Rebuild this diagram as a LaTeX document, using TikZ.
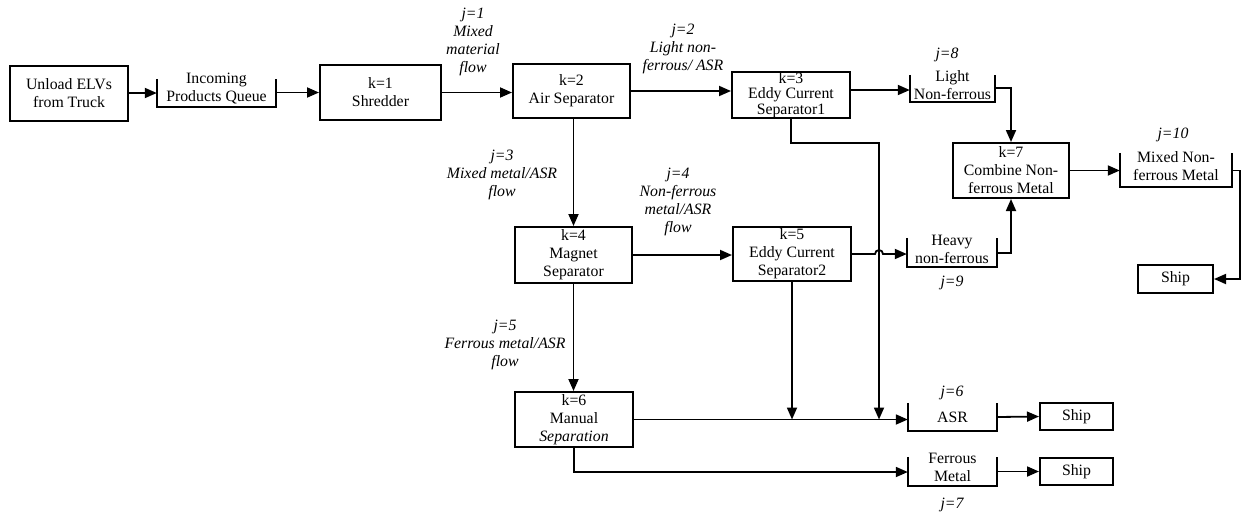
\documentclass[tikz,border=0pt]{standalone}
\usepackage{fontspec}
\setmainfont{Liberation Serif}
\usetikzlibrary{arrows.meta}
\newcommand\quline[2]{\draw[qline] ([yshift=-#2pt]#1.north west) |- (#1.south east) -- ([yshift=-#2pt]#1.north east);}
\begin{document}
\begin{tikzpicture}[x=1pt,y=1pt,
  proc/.style={draw, line width=2pt, rectangle, inner sep=0pt, align=center, font=\fontsize{15.8}{18}\selectfont},
  queue/.style={rectangle, inner sep=0pt, align=center, font=\fontsize{15.8}{18}\selectfont},
  qline/.style={line width=1.7pt},
  lab/.style={align=center, inner sep=0pt, font=\fontsize{15.8}{18}\selectfont\itshape},
  arr/.style={line width=1.8pt, -{Triangle[length=12pt,width=10pt]}}]
\useasboundingbox (0,0) rectangle (1242,-515);
% process boxes
\node[proc, minimum width=118pt, minimum height=55pt] (unload) at (69,-93) {Unload ELVs\\from Truck};
\node[proc, minimum width=121pt, minimum height=55pt] (shred) at (380.5,-92.5) {k=1\\Shredder};
\node[proc, minimum width=117pt, minimum height=54pt] (air) at (571.5,-91) {k=2\\Air Separator};
\node[proc, minimum width=118pt, minimum height=46pt, font=\fontsize{15.8}{15.5}\selectfont] (ecs1) at (791,-95) {k=3\\Eddy Current\\Separator1};
\node[proc, minimum width=117pt, minimum height=56pt] (magnet) at (573.5,-255) {k=4\\Magnet\\Separator};
\node[proc, minimum width=118pt, minimum height=54pt] (ecs2) at (792,-254) {k=5\\Eddy Current\\Separator2};
\node[proc, minimum width=118pt, minimum height=55pt] (manual) at (574,-419.5) {k=6\\Manual\\\textit{Separation}};
\node[proc, minimum width=116pt, minimum height=55pt] (k7) at (1011,-170.5) {k=7\\Combine Non-\\ferrous Metal};
\node[proc, minimum width=75pt, minimum height=28pt] (ship3) at (1175.5,-279) {Ship};
\node[proc, minimum width=73pt, minimum height=27pt] (ship1) at (1076.5,-416.5) {Ship};
\node[proc, minimum width=73pt, minimum height=27pt] (ship2) at (1076.5,-471.5) {Ship};
% queues
\node[queue, minimum width=119pt, minimum height=36pt] (incoming) at (216.5,-89) {Incoming\\Products Queue};
\node[queue, minimum width=85pt, minimum height=34pt] (light) at (952.5,-85) {Light\\Non-ferrous};
\node[queue, minimum width=90pt, minimum height=36pt] (heavy) at (952,-249) {Heavy\\non-ferrous};
\node[queue, minimum width=112pt, minimum height=41pt] (mixed) at (1176,-166.5) {Mixed Non-\\ferrous Metal};
\node[queue, minimum width=89pt, minimum height=28pt] (asr) at (952.5,-417) {ASR};
\node[queue, minimum width=89pt, minimum height=37pt] (ferrous) at (952.5,-467.5) {Ferrous\\Metal};
\quline{incoming}{8}
\quline{light}{7}
\quline{heavy}{7}
\quline{mixed}{7}
\quline{asr}{0}
\quline{ferrous}{8}
% labels
\node[lab] (j1) at (473,-42) {j=1\\Mixed\\material\\flow};
\node[lab] (j2) at (683,-49) {j=2\\Light non-\\ferrous/ ASR};
\node[lab] (j3) at (502,-175) {j=3\\Mixed metal/ASR\\flow};
\node[lab] (j4) at (678,-202) {j=4\\Non-ferrous\\metal/ASR\\flow};
\node[lab] (j5) at (505,-345) {j=5\\Ferrous metal/ASR\\flow};
\node[lab] (j6) at (952,-393) {j=6};
\node[lab] (j7) at (952,-505) {j=7};
\node[lab] (j8) at (947,-55) {j=8};
\node[lab] (j9) at (952,-283) {j=9};
\node[lab] (j10) at (1173,-135) {j=10};
% connectors
\draw[arr] (unload.east) -- (unload.east -| incoming.west);
\draw[arr] (shred.west -| incoming.east) -- (shred.west);
\draw[arr] (shred.east) -- (shred.east -| air.west);
\draw[arr] (air.east) -- (air.east -| ecs1.west);
\coordinate (e1o) at ([yshift=5pt]ecs1.east);
\draw[arr] (e1o) -- (e1o -| light.west);
\coordinate (lo) at ([yshift=-3pt]light.east);
\draw[arr] (lo) -| (k7.north);
\coordinate (ho) at ([yshift=-4pt]heavy.east);
\draw[arr] (ho) -| (k7.south);
\draw[arr] (k7.east) -- (k7.east -| mixed.west);
\coordinate (mo) at (k7.east -| mixed.east);
\draw[arr] (mo) -- ++(8,0) |- (ship3.east);
\draw[arr] (magnet.north |- air.south) -- (magnet.north);
\draw[arr] (magnet.east) -- (magnet.east -| ecs2.west);
\draw[arr] (magnet.south) -- (magnet.south |- manual.north);
\coordinate (jmp) at (875,-254);
\draw[arr] (ecs2.east) -- (jmp) arc[start angle=180, end angle=0, radius=4pt] -- (ecs2.east -| heavy.west);
\coordinate (b1) at (879,-143);
\draw[arr] (ecs1.south) |- (b1) -- (b1 |- manual.east);
\draw[arr] (ecs2.south) -- (ecs2.south |- manual.east);
\draw[arr] (manual.east) -- (manual.east -| asr.west);
\draw[arr] (asr.east) -- (ship1.west);
\coordinate (fi) at ([yshift=-4.5pt]ferrous.west);
\draw[arr] (manual.south) |- (fi);
\draw[arr] (ship2.west -| ferrous.east) -- (ship2.west);
\end{tikzpicture}
\end{document}
